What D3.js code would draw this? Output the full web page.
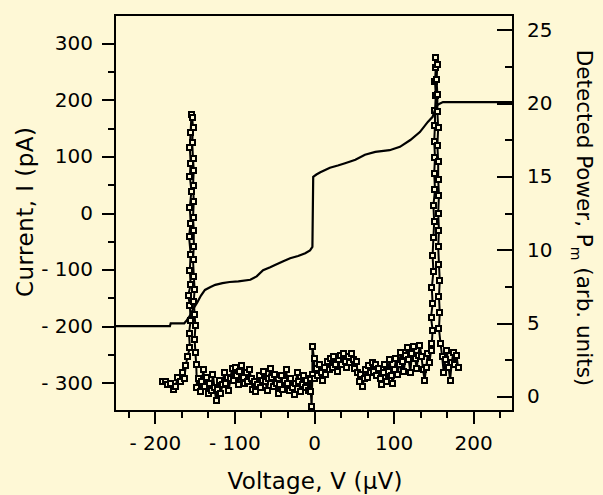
<!DOCTYPE html>
<html>
<head>
<meta charset="utf-8">
<script src="https://cdn.jsdelivr.net/npm/d3@7"></script>
<style>
  html, body { margin: 0; padding: 0; background: #fef8d6; }
  svg { display: block; }
  text { font-family: "DejaVu Sans", sans-serif; fill: #000; }
</style>
</head>
<body>
<svg id="chart" width="603" height="495"></svg>
<script>
// Axis ticks
const voltTicks = [-200, -100, 0, 100, 200];
const voltMinorTicks = [-233.3, -166.7, -133.3, -66.7, -33.3, 33.3, 66.7, 133.3, 166.7, 233.3];
const currentTicks = [300, 200, 100, 0, -100, -200, -300];
const currentMinorTicks = [250, 150, 50, -50, -150, -250];
const powerTicks = [0, 5, 10, 15, 20, 25];
const powerMinorTicks = [2.5, 7.5, 12.5, 17.5, 22.5];

// I-V curve: voltage (µV) and current (pA)
const ivVolt = [-250, -181, -180, -163, -160, -156, -152, -147, -142, -137, -130, -124, -115, -106, -95, -80,
  -72, -64, -55, -49, -40, -30, -20, -11, -5, -2, -1, 3, 8, 14, 20, 30, 39, 52, 64, 77, 95, 108, 121, 133,
  143, 149, 153, 156, 162, 250];
const ivCurr = [-200, -200, -195, -195, -190, -182, -170, -159, -146, -136, -131, -127, -124, -122, -121, -118,
  -112, -101, -96, -92, -86, -80, -76, -71, -66, -60, 64, 68, 72, 76, 80, 84, 88, 94, 103, 108, 111, 117, 129, 143,
  161, 170, 187, 192, 196, 196];

// Detected power: [voltage (µV), power (arb. units)] in sweep order
const powerLeftTail = [[-190, 1.0], [-187, 1.0], [-184, 0.8], [-180, 0.9], [-177, 0.5], [-174, 0.7], [-171, 1.3],
  [-168, 1.0], [-165, 1.6], [-163, 1.2], [-161, 2.1], [-159, 2.7]];
const powerLeftPeak = [[-156, 3.3], [-157, 4.3], [-155, 5.2], [-156, 6.2], [-158, 6.9], [-155, 7.6], [-156, 8.6],
  [-155, 9.7], [-157, 10.9], [-155, 11.8], [-156, 12.9], [-154, 14.0], [-156, 15.0], [-155, 15.9], [-156, 17.0],
  [-155, 18.0], [-154, 19.2], [-153, 19.0], [-152, 18.3], [-153, 17.3], [-152, 16.2], [-151, 15.4], [-152, 14.4],
  [-151, 13.3], [-152, 12.2], [-151, 11.3], [-151, 10.2], [-152, 9.3], [-151, 8.2], [-150, 7.3], [-151, 6.5],
  [-150, 5.6], [-149, 4.8], [-150, 3.9], [-149, 3.0], [-148, 2.2]];
const powerNegBias = [[-147, 0.6], [-145, 1.2], [-143, 0.3], [-141, 1.0], [-139, 1.8], [-137, 0.7], [-135, 1.3],
  [-133, 0.2], [-131, 0.9], [-129, 0.4], [-127, 1.5], [-125, 0.6], [-123, -0.3], [-121, 0.5], [-119, 1.1],
  [-117, 0.2], [-115, 0.8], [-113, 1.6], [-111, 0.9], [-109, 1.3], [-107, 0.4], [-105, 1.2], [-103, 1.9],
  [-101, 1.1], [-99, 2.0], [-97, 1.4], [-95, 0.8], [-93, 1.7], [-91, 2.1], [-89, 1.3], [-87, 0.9], [-85, 1.6],
  [-83, 1.0], [-81, 1.8], [-79, 1.2], [-77, 0.5], [-75, 1.0], [-73, 0.3], [-71, 0.8], [-69, 1.4], [-67, 0.6],
  [-65, 1.1], [-63, 1.7], [-61, 1.0], [-59, 0.4], [-57, 1.2], [-55, 1.9], [-53, 1.3], [-51, 0.7], [-49, 1.5],
  [-47, 0.9], [-45, 0.2], [-43, 0.8], [-41, 1.4], [-39, 0.5], [-37, 1.1], [-35, 1.8], [-33, 0.9], [-31, 0.4],
  [-29, 1.2], [-27, 0.6], [-25, 0.1], [-23, 0.9], [-21, 1.6], [-19, 1.0], [-17, 0.3], [-15, 0.8], [-13, 1.4],
  [-11, 0.6], [-9, 1.1], [-7, 0.4], [-5, 1.2]];
const powerZero = [[-4, 0.3], [-3, -0.7], [-2, 1.5], [-2, 3.4], [0, 2.6], [1, 1.2]];
const powerPosBias = [[3, 1.9], [5, 1.4], [7, 2.2], [9, 1.6], [11, 1.1], [13, 2.0], [15, 1.5], [17, 2.4], [19, 1.8],
  [21, 2.6], [23, 2.0], [25, 2.7], [27, 2.2], [29, 1.7], [31, 2.5], [33, 2.8], [35, 2.2], [37, 2.9], [39, 2.4],
  [41, 2.0], [43, 2.7], [45, 2.3], [47, 2.9], [49, 2.5], [51, 1.9], [53, 2.4], [55, 1.6], [57, 1.0], [59, 1.5],
  [61, 0.7], [63, 1.2], [65, 1.8], [67, 1.3], [69, 2.1], [71, 1.6], [73, 2.3], [75, 1.7], [77, 2.2], [79, 1.4],
  [81, 1.9], [83, 1.2], [85, 0.8], [87, 1.6], [89, 2.2], [91, 1.0], [93, 1.7], [95, 2.5], [97, 1.4], [99, 0.9],
  [101, 1.8], [103, 2.6], [105, 1.5], [107, 2.2], [109, 3.0], [111, 2.4], [113, 1.7], [115, 2.8], [117, 3.3],
  [119, 2.5], [121, 1.6], [123, 2.9], [125, 3.4], [127, 2.6], [129, 1.9], [131, 2.8], [133, 3.5], [135, 2.7],
  [137, 1.8], [139, 1.1], [141, 2.0], [143, 2.9], [145, 2.3], [147, 3.1]];
const powerRightPeak = [[148, 3.6], [149, 4.5], [147, 5.4], [149, 6.3], [148, 7.4], [150, 8.5], [149, 9.6],
  [150, 10.8], [151, 11.9], [150, 13.0], [152, 14.1], [151, 15.2], [152, 16.3], [151, 17.4], [152, 18.5],
  [152, 19.5], [153, 20.5], [152, 21.5], [153, 22.4], [153, 23.1], [155, 22.6], [154, 21.6], [155, 20.6],
  [155, 19.4], [156, 18.3], [155, 17.1], [156, 16.0], [156, 14.8], [157, 13.7], [156, 12.5], [157, 11.3],
  [156, 10.2], [157, 9.0], [158, 7.9], [157, 6.8], [158, 5.7], [157, 4.6], [159, 3.6], [161, 2.7]];
const powerRightTail = [[163, 1.6], [165, 2.5], [167, 3.1], [169, 2.0], [171, 1.1], [173, 2.3], [175, 3.0],
  [177, 2.2], [179, 2.8], [181, 2.0]];

const powerPoints = [].concat(powerLeftTail, powerLeftPeak, powerNegBias, powerZero,
  powerPosBias, powerRightPeak, powerRightTail);
const ivPoints = ivVolt.map((v, i) => [v, ivCurr[i]]);

const bg = "#fef8d6";
const svg = d3.select("#chart");
svg.append("rect").attr("width", 603).attr("height", 495).attr("fill", bg);

const plot = { left: 115, right: 513, top: 15, bottom: 411 };
const x = d3.scaleLinear([-250, 250], [plot.left, plot.right]);
const yI = d3.scaleLinear([-350, 350], [plot.bottom, plot.top]);
const yP = d3.scaleLinear([-1, 26], [plot.bottom, plot.top]);

const fmt = d => d < 0 ? "- " + Math.abs(d) : String(d);

function styleAxis(g) {
  g.select(".domain").remove();
  g.selectAll("line").attr("stroke", "#000").attr("stroke-width", 2).attr("shape-rendering", "crispEdges");
  g.selectAll("text").attr("font-size", 20).attr("font-family", "DejaVu Sans, sans-serif").attr("fill", "#000");
  g.attr("font-family", null).attr("font-size", null);
}

// left axis (current)
svg.append("g").attr("transform", `translate(${plot.left},0)`)
  .call(d3.axisLeft(yI).tickValues(currentTicks).tickSize(13).tickPadding(9).tickFormat(fmt)).call(styleAxis);
svg.append("g").attr("transform", `translate(${plot.left},0)`)
  .call(d3.axisLeft(yI).tickValues(currentMinorTicks).tickSize(7).tickFormat("")).call(styleAxis);

// bottom axis (voltage)
svg.append("g").attr("transform", `translate(0,${plot.bottom})`)
  .call(d3.axisBottom(x).tickValues(voltTicks).tickSize(13).tickPadding(12).tickFormat(fmt)).call(styleAxis);
svg.append("g").attr("transform", `translate(0,${plot.bottom})`)
  .call(d3.axisBottom(x).tickValues(voltMinorTicks).tickSize(7).tickFormat("")).call(styleAxis);

// right axis (power), ticks pointing inward
svg.append("g").attr("transform", `translate(${plot.right},0)`)
  .call(d3.axisRight(yP).tickValues(powerTicks).tickSizeInner(-16).tickSizeOuter(0).tickPadding(14)).call(styleAxis);
svg.append("g").attr("transform", `translate(${plot.right},0)`)
  .call(d3.axisRight(yP).tickValues(powerMinorTicks).tickSizeInner(-8).tickSizeOuter(0).tickFormat("")).call(styleAxis);

// frame
svg.append("rect")
  .attr("x", plot.left).attr("y", plot.top)
  .attr("width", plot.right - plot.left).attr("height", plot.bottom - plot.top)
  .attr("fill", "none").attr("stroke", "#000").attr("stroke-width", 2)
  .attr("shape-rendering", "crispEdges");

// detected power: connected open squares
const pLine = d3.line().x(d => x(d[0])).y(d => yP(d[1]));
svg.append("path").datum(powerPoints)
  .attr("d", pLine).attr("fill", "none").attr("stroke", "#000").attr("stroke-width", 2)
  .attr("stroke-linejoin", "round");
svg.append("g").selectAll("rect").data(powerPoints).join("rect")
  .attr("x", d => x(d[0]) - 2.5).attr("y", d => yP(d[1]) - 2.5)
  .attr("width", 5).attr("height", 5)
  .attr("fill", bg).attr("stroke", "#000").attr("stroke-width", 2)
  .attr("shape-rendering", "crispEdges");

// I-V curve
const iLine = d3.line().x(d => x(d[0])).y(d => yI(d[1]));
svg.append("path").datum(ivPoints)
  .attr("d", iLine).attr("fill", "none").attr("stroke", "#000").attr("stroke-width", 2.2);

// axis titles
svg.append("text").attr("x", 315).attr("y", 489).attr("text-anchor", "middle")
  .attr("font-size", 23).attr("textLength", 175).attr("lengthAdjust", "spacing")
  .text("Voltage, V (μV)");

svg.append("text").attr("transform", "translate(33,212) rotate(-90)").attr("text-anchor", "middle")
  .attr("font-size", 23).attr("textLength", 170).attr("lengthAdjust", "spacing")
  .text("Current, I (pA)");

const rt = svg.append("text").attr("transform", "translate(577,218) rotate(90)")
  .attr("text-anchor", "middle").attr("font-size", 21.5);
rt.append("tspan").text("Detected Power, P");
rt.append("tspan").attr("font-size", 14).attr("dy", 6).text("m");
rt.append("tspan").attr("dy", -6).text(" (arb. units)");
</script>
</body>
</html>
